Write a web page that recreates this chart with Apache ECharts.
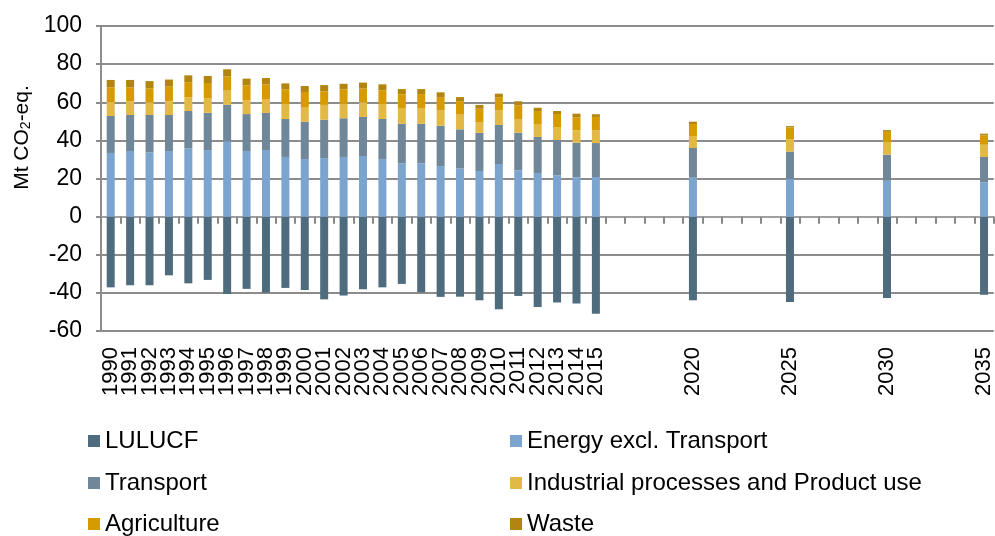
<!DOCTYPE html>
<html>
<head>
<meta charset="utf-8">
<script src="https://cdn.jsdelivr.net/npm/echarts@6/dist/echarts.min.js"></script>
<style>
html,body{margin:0;padding:0;background:#fff;}
#chart{width:995px;height:536px;}
</style>
</head>
<body>
<div id="chart"></div>
<script>
// All category slots on the x axis (one per year)
var categories = ['1990','1991','1992','1993','1994','1995','1996','1997','1998','1999',
  '2000','2001','2002','2003','2004','2005','2006','2007','2008','2009',
  '2010','2011','2012','2013','2014','2015','2016','2017','2018','2019',
  '2020','2021','2022','2023','2024','2025','2026','2027','2028','2029',
  '2030','2031','2032','2033','2034','2035'];
// Tick labels that are shown
var tickLabels = ['1990','1991','1992','1993','1994','1995','1996','1997','1998','1999',
  '2000','2001','2002','2003','2004','2005','2006','2007','2008','2009',
  '2010','2011','2012','2013','2014','2015','2020','2025','2030','2035'];
// Years that carry data
var years = ['1990','1991','1992','1993','1994','1995','1996','1997','1998','1999',
  '2000','2001','2002','2003','2004','2005','2006','2007','2008','2009',
  '2010','2011','2012','2013','2014','2015','2020','2025','2030','2035'];

var lulucf = [-37.1,-36.0,-36.0,-30.8,-35.0,-33.2,-40.6,-37.9,-39.9,-37.4,-38.5,-43.4,-41.4,-38.1,-37.1,-35.3,-39.7,-42.1,-42.0,-43.9,-48.6,-41.6,-47.4,-45.1,-45.6,-51.0,-43.9,-44.8,-42.7,-41.0];
var energy = [33.4,34.4,33.7,34.4,35.8,34.9,39.5,34.4,34.9,31.3,30.2,30.7,31.3,31.8,30.2,28.0,28.0,26.5,25.3,23.9,27.6,24.3,22.9,21.7,20.6,20.8,20.4,19.7,18.8,18.0];
var transport = [19.4,18.9,19.6,18.9,19.6,19.6,19.2,19.4,19.5,19.9,19.6,20.1,20.3,20.5,21.0,20.7,20.7,21.2,20.5,20.1,20.5,19.7,18.9,18.5,18.2,17.8,15.6,14.4,13.7,13.3];
var industrial = [7.3,7.3,6.7,7.2,7.3,7.7,7.4,7.4,7.3,7.9,7.7,7.8,7.6,7.7,7.9,8.3,8.3,8.2,7.7,5.6,7.8,7.2,6.8,6.8,6.5,6.8,6.3,6.6,6.3,6.4];
var agriculture = [7.7,7.2,7.3,7.7,7.8,7.9,7.5,7.7,7.7,7.7,7.9,7.1,7.6,7.3,7.2,7.2,7.3,6.8,7.1,7.0,6.8,7.2,6.8,6.8,6.8,6.9,6.3,6.1,5.7,4.9];
var waste = [3.9,3.9,3.8,3.7,3.6,3.7,3.7,3.5,3.3,3.1,3.1,3.3,2.9,3.0,3.1,2.7,2.6,2.5,2.1,2.0,1.8,2.1,1.7,1.6,1.9,1.4,1.2,0.7,0.9,0.9];

var seriesNames = ['LULUCF','Energy excl. Transport','Transport','Industrial processes and Product use','Agriculture','Waste'];
var seriesValues = [lulucf, energy, transport, industrial, agriculture, waste];
var colors = ['#4f6c7e','#7ba4cf','#6f8798','#e3b946','#d69b00','#b1850f'];

var FONT = '"Liberation Sans", Arial, sans-serif';

var chart = echarts.init(document.getElementById('chart'), null, {renderer:'canvas'});

var series = seriesNames.map(function(name, k){
  return {
    name: name,
    type: 'bar',
    stack: 'total',
    barWidth: 8,
    xAxisIndex: 0,
    itemStyle: {color: colors[k]},
    data: years.map(function(y, i){ return [y, seriesValues[k][i]]; })
  };
});
// empty helper series so the zero-line tick axis is in use
series.push({name: '_zero', type: 'line', xAxisIndex: 1, data: [], silent: true, showSymbol: false});

var legendPos = [
  {left: 88, top: 429}, {left: 510, top: 429},
  {left: 88, top: 471}, {left: 510, top: 471},
  {left: 88, top: 512}, {left: 510, top: 512}
];
var legends = seriesNames.map(function(name, k){
  return {
    data: [name],
    left: legendPos[k].left,
    top: legendPos[k].top,
    icon: 'rect',
    itemWidth: 12,
    itemHeight: 12,
    itemGap: 0,
    padding: 0,
    selectedMode: false,
    textStyle: {fontFamily: FONT, fontSize: 24, color: '#000', padding: [0,0,0,0]}
  };
});

chart.setOption({
  animation: false,
  color: colors,
  grid: {left: 101, top: 26, width: 896, bottom: 205, containLabel: false},
  legend: legends,
  xAxis: [
    {
      type: 'category',
      data: categories,
      position: 'bottom',
      axisLine: {show: false, onZero: false},
      axisTick: {show: false},
      axisLabel: {
        rotate: 90,
        margin: 16,
        fontFamily: FONT,
        fontSize: 22,
        color: '#000',
        interval: 0,
        hideOverlap: false,
        formatter: function(v){ return tickLabels.indexOf(v) >= 0 ? v : ''; }
      },
      splitLine: {show: false}
    },
    {
      type: 'category',
      data: categories,
      position: 'top',
      axisLine: {show: true, onZero: true, lineStyle: {color: '#a0a0a0', width: 2}},
      axisTick: {show: true, inside: true, interval: 0, length: 7, lineStyle: {color: '#888888', width: 2}},
      axisLabel: {show: false},
      splitLine: {show: false}
    }
  ],
  yAxis: {
    type: 'value',
    min: -60,
    max: 100,
    interval: 20,
    name: 'Mt CO{sub|2}-eq.',
    nameLocation: 'middle',
    nameRotate: 90,
    nameGap: 67,
    nameTextStyle: {
      fontFamily: FONT, fontSize: 21, color: '#000',
      padding: [0,0,0,82],
      rich: {sub: {fontFamily: FONT, fontSize: 14, color: '#000', verticalAlign: 'bottom', lineHeight: 14}}
    },
    axisLine: {show: true, lineStyle: {color: '#8c8c8c', width: 2}},
    axisTick: {show: true, length: 5, lineStyle: {color: '#8c8c8c', width: 2}},
    axisLabel: {fontFamily: FONT, fontSize: 23, color: '#000', margin: 19},
    splitLine: {show: true, lineStyle: {color: '#8c8c8c', width: 2}}
  },
  series: series
});
</script>
</body>
</html>
